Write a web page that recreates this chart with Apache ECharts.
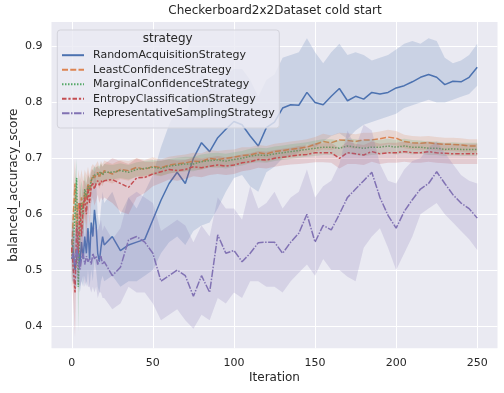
<!DOCTYPE html>
<html>
<head>
<meta charset="utf-8">
<title>Checkerboard2x2Dataset cold start</title>
<script src="https://cdn.jsdelivr.net/npm/echarts@6/dist/echarts.min.js"></script>
<style>
  html, body { margin: 0; padding: 0; background: #fff; }
  #chart { width: 504px; height: 393px; }
</style>
</head>
<body>
<div id="chart"></div>
<script>
// x values (Iteration): every step at the start, then every 5
var iterations = [0, 1, 2, 3, 4, 5, 6, 7, 8, 9, 10, 11, 12, 13, 14, 15, 16, 17, 18, 19, 20,
	25, 30, 35, 40, 45, 50, 55, 60, 65, 70, 75, 80, 85, 90, 95, 100, 105, 110, 115, 120, 125,
	130, 135, 140, 145, 150, 155, 160, 165, 170, 175, 180, 185, 190, 195, 200, 205, 210, 215,
	220, 225, 230, 235, 240, 245, 250];

var strategyNames = ['RandomAcquisitionStrategy', 'LeastConfidenceStrategy', 'MarginalConfidenceStrategy',
	'EntropyClassificationStrategy', 'RepresentativeSamplingStrategy'];

var xTicks = [0, 50, 100, 150, 200, 250];
var yTicks = [0.4, 0.5, 0.6, 0.7, 0.8, 0.9];

// 1 RandomAcquisitionStrategy
var randomMean = [0.555, 0.53, 0.50, 0.52, 0.54, 0.51, 0.55, 0.52, 0.56, 0.53, 0.575, 0.52, 0.585, 0.56, 0.608, 0.58, 0.53, 0.515, 0.54, 0.56, 0.545,
	0.56, 0.535, 0.545, 0.55, 0.555, 0.59, 0.625, 0.655, 0.675, 0.655, 0.70, 0.728, 0.712, 0.737, 0.752, 0.766, 0.76, 0.74, 0.722, 0.755, 0.765,
	0.79, 0.796, 0.795, 0.818, 0.80, 0.796, 0.811, 0.825, 0.803, 0.811, 0.806, 0.818, 0.815, 0.818, 0.826, 0.83, 0.837, 0.845, 0.85, 0.845,
	0.832, 0.838, 0.837, 0.845, 0.863];
var randomLow = [0.51, 0.48, 0.46, 0.47, 0.48, 0.46, 0.48, 0.47, 0.49, 0.47, 0.50, 0.47, 0.50, 0.48, 0.52, 0.50, 0.47, 0.46, 0.48, 0.49, 0.48,
	0.49, 0.47, 0.48, 0.48, 0.49, 0.50, 0.53, 0.55, 0.56, 0.545, 0.57, 0.58, 0.585, 0.61, 0.64, 0.665, 0.67, 0.65, 0.64, 0.675, 0.685,
	0.70, 0.705, 0.71, 0.725, 0.72, 0.73, 0.74, 0.745, 0.735, 0.75, 0.76, 0.765, 0.77, 0.775, 0.78, 0.79, 0.795, 0.80, 0.805, 0.80,
	0.80, 0.805, 0.81, 0.815, 0.83];
var randomHigh = [0.60, 0.58, 0.56, 0.58, 0.60, 0.57, 0.62, 0.58, 0.63, 0.60, 0.65, 0.58, 0.66, 0.64, 0.69, 0.66, 0.60, 0.58, 0.61, 0.64, 0.62,
	0.64, 0.60, 0.63, 0.61, 0.64, 0.67, 0.72, 0.76, 0.79, 0.77, 0.82, 0.85, 0.83, 0.84, 0.85, 0.86, 0.86, 0.84, 0.81, 0.84, 0.85,
	0.88, 0.885, 0.89, 0.915, 0.89, 0.87, 0.89, 0.905, 0.885, 0.89, 0.885, 0.875, 0.88, 0.885, 0.895, 0.905, 0.91, 0.905, 0.915, 0.91,
	0.88, 0.87, 0.875, 0.885, 0.905];

// 2 LeastConfidenceStrategy
var leastMean = [0.53, 0.60, 0.655, 0.56, 0.62, 0.60, 0.63, 0.61, 0.64, 0.625, 0.655, 0.64, 0.66, 0.67, 0.665, 0.67, 0.675, 0.665, 0.675, 0.67, 0.678,
	0.672, 0.68, 0.678, 0.684, 0.68, 0.686, 0.683, 0.688, 0.69, 0.692, 0.695, 0.694, 0.70, 0.698, 0.70, 0.702, 0.705, 0.706, 0.71, 0.708, 0.712,
	0.714, 0.716, 0.718, 0.72, 0.725, 0.73, 0.728, 0.733, 0.732, 0.73, 0.733, 0.733, 0.735, 0.738, 0.736, 0.73, 0.728, 0.727, 0.728, 0.726,
	0.725, 0.725, 0.724, 0.722, 0.722];
var leastLow = [0.48, 0.54, 0.60, 0.50, 0.56, 0.54, 0.58, 0.56, 0.60, 0.58, 0.625, 0.61, 0.635, 0.65, 0.645, 0.65, 0.655, 0.645, 0.655, 0.65, 0.66,
	0.655, 0.663, 0.66, 0.668, 0.664, 0.67, 0.668, 0.673, 0.675, 0.677, 0.68, 0.679, 0.685, 0.683, 0.686, 0.688, 0.69, 0.692, 0.696, 0.694, 0.698,
	0.70, 0.702, 0.704, 0.706, 0.712, 0.716, 0.715, 0.72, 0.719, 0.717, 0.72, 0.72, 0.722, 0.725, 0.723, 0.718, 0.716, 0.715, 0.716, 0.714,
	0.713, 0.713, 0.712, 0.71, 0.71];
var leastHigh = [0.58, 0.66, 0.70, 0.62, 0.68, 0.66, 0.68, 0.66, 0.68, 0.67, 0.685, 0.67, 0.685, 0.69, 0.685, 0.69, 0.695, 0.685, 0.695, 0.69, 0.696,
	0.69, 0.697, 0.695, 0.70, 0.697, 0.702, 0.698, 0.703, 0.705, 0.707, 0.71, 0.709, 0.715, 0.713, 0.715, 0.716, 0.72, 0.72, 0.724, 0.722, 0.726,
	0.728, 0.73, 0.732, 0.734, 0.738, 0.744, 0.741, 0.746, 0.745, 0.743, 0.746, 0.746, 0.748, 0.751, 0.749, 0.742, 0.740, 0.739, 0.740, 0.738,
	0.737, 0.737, 0.736, 0.734, 0.734];

// 3 MarginalConfidenceStrategy
var marginalMean = [0.52, 0.55, 0.60, 0.665, 0.47, 0.58, 0.62, 0.60, 0.645, 0.63, 0.65, 0.645, 0.66, 0.665, 0.67, 0.668, 0.672, 0.67, 0.676, 0.67, 0.675,
	0.675, 0.678, 0.675, 0.68, 0.682, 0.684, 0.682, 0.686, 0.688, 0.69, 0.69, 0.694, 0.696, 0.697, 0.695, 0.698, 0.70, 0.704, 0.706, 0.705, 0.708,
	0.71, 0.712, 0.714, 0.716, 0.718, 0.72, 0.72, 0.718, 0.722, 0.72, 0.718, 0.72, 0.72, 0.722, 0.72, 0.722, 0.72, 0.72, 0.718, 0.718,
	0.716, 0.717, 0.716, 0.716, 0.716];
var marginalLow = [0.47, 0.49, 0.54, 0.62, 0.39, 0.52, 0.58, 0.56, 0.62, 0.605, 0.63, 0.625, 0.645, 0.65, 0.655, 0.653, 0.657, 0.655, 0.661, 0.655, 0.66,
	0.662, 0.665, 0.662, 0.667, 0.669, 0.671, 0.669, 0.673, 0.675, 0.677, 0.677, 0.681, 0.683, 0.684, 0.682, 0.685, 0.687, 0.691, 0.693, 0.692, 0.695,
	0.697, 0.699, 0.701, 0.703, 0.704, 0.706, 0.706, 0.704, 0.708, 0.706, 0.704, 0.706, 0.707, 0.709, 0.707, 0.709, 0.707, 0.708, 0.706, 0.706,
	0.704, 0.705, 0.704, 0.704, 0.704];
var marginalHigh = [0.57, 0.61, 0.66, 0.70, 0.55, 0.64, 0.66, 0.64, 0.67, 0.655, 0.67, 0.665, 0.675, 0.68, 0.685, 0.683, 0.687, 0.685, 0.691, 0.685, 0.69,
	0.688, 0.691, 0.688, 0.693, 0.695, 0.697, 0.695, 0.699, 0.701, 0.703, 0.703, 0.707, 0.709, 0.71, 0.708, 0.711, 0.713, 0.717, 0.719, 0.718, 0.721,
	0.723, 0.725, 0.727, 0.729, 0.732, 0.734, 0.734, 0.732, 0.736, 0.734, 0.732, 0.734, 0.733, 0.735, 0.733, 0.735, 0.733, 0.732, 0.730, 0.730,
	0.728, 0.729, 0.728, 0.728, 0.728];

// 4 EntropyClassificationStrategy
var entropyMean = [0.54, 0.50, 0.46, 0.58, 0.53, 0.62, 0.56, 0.61, 0.63, 0.60, 0.645, 0.62, 0.65, 0.655, 0.645, 0.655, 0.66, 0.652, 0.66, 0.656, 0.66,
	0.662, 0.655, 0.648, 0.665, 0.666, 0.672, 0.676, 0.68, 0.678, 0.68, 0.685, 0.683, 0.686, 0.688, 0.686, 0.688, 0.692, 0.694, 0.698, 0.697, 0.70,
	0.702, 0.704, 0.706, 0.707, 0.71, 0.71, 0.71, 0.70, 0.71, 0.708, 0.706, 0.712, 0.708, 0.71, 0.71, 0.712, 0.71, 0.71, 0.712, 0.71,
	0.709, 0.708, 0.708, 0.708, 0.708];
var entropyLow = [0.49, 0.44, 0.38, 0.52, 0.46, 0.57, 0.50, 0.56, 0.60, 0.55, 0.61, 0.58, 0.62, 0.63, 0.615, 0.625, 0.635, 0.62, 0.63, 0.625, 0.63,
	0.62, 0.605, 0.60, 0.63, 0.638, 0.65, 0.656, 0.662, 0.66, 0.663, 0.668, 0.666, 0.67, 0.672, 0.67, 0.672, 0.677, 0.679, 0.683, 0.682, 0.685,
	0.687, 0.689, 0.69, 0.691, 0.693, 0.693, 0.692, 0.682, 0.69, 0.69, 0.688, 0.694, 0.69, 0.692, 0.692, 0.694, 0.692, 0.692, 0.694, 0.692,
	0.691, 0.69, 0.69, 0.69, 0.69];
var entropyHigh = [0.59, 0.56, 0.54, 0.64, 0.60, 0.67, 0.62, 0.66, 0.66, 0.65, 0.675, 0.66, 0.68, 0.68, 0.675, 0.685, 0.685, 0.68, 0.69, 0.685, 0.69,
	0.70, 0.695, 0.69, 0.70, 0.694, 0.694, 0.696, 0.698, 0.696, 0.697, 0.702, 0.70, 0.702, 0.704, 0.702, 0.704, 0.707, 0.709, 0.713, 0.712, 0.715,
	0.717, 0.719, 0.722, 0.723, 0.727, 0.727, 0.728, 0.718, 0.73, 0.726, 0.724, 0.73, 0.726, 0.728, 0.728, 0.73, 0.728, 0.728, 0.73, 0.728,
	0.727, 0.726, 0.726, 0.726, 0.726];

// 5 RepresentativeSamplingStrategy
var representativeMean = [0.52, 0.53, 0.51, 0.54, 0.52, 0.50, 0.52, 0.53, 0.51, 0.525, 0.515, 0.52, 0.51, 0.53, 0.52, 0.525, 0.51, 0.52, 0.525, 0.51, 0.515,
	0.49, 0.505, 0.554, 0.56, 0.55, 0.53, 0.48, 0.49, 0.50, 0.49, 0.453, 0.49, 0.46, 0.563, 0.53, 0.535, 0.515, 0.53, 0.549, 0.55, 0.55,
	0.53, 0.55, 0.566, 0.60, 0.55, 0.58, 0.572, 0.60, 0.63, 0.645, 0.66, 0.675, 0.63, 0.598, 0.575, 0.605, 0.626, 0.645, 0.655, 0.676,
	0.655, 0.635, 0.62, 0.61, 0.593];
var representativeLow = [0.48, 0.48, 0.47, 0.49, 0.48, 0.47, 0.48, 0.49, 0.47, 0.48, 0.47, 0.47, 0.46, 0.47, 0.46, 0.47, 0.45, 0.46, 0.46, 0.45, 0.45,
	0.43, 0.44, 0.47, 0.46, 0.46, 0.44, 0.41, 0.42, 0.43, 0.41, 0.395, 0.42, 0.41, 0.45, 0.44, 0.46, 0.45, 0.48, 0.48, 0.47, 0.47,
	0.46, 0.48, 0.495, 0.51, 0.49, 0.52, 0.50, 0.50, 0.488, 0.48, 0.54, 0.56, 0.575, 0.54, 0.50, 0.53, 0.56, 0.60, 0.61, 0.62,
	0.60, 0.585, 0.57, 0.555, 0.536];
var representativeHigh = [0.57, 0.58, 0.56, 0.59, 0.57, 0.55, 0.57, 0.58, 0.56, 0.575, 0.565, 0.57, 0.56, 0.585, 0.575, 0.58, 0.57, 0.58, 0.59, 0.57, 0.58,
	0.555, 0.575, 0.63, 0.64, 0.63, 0.62, 0.57, 0.58, 0.59, 0.58, 0.55, 0.58, 0.56, 0.63, 0.61, 0.61, 0.59, 0.65, 0.61, 0.62, 0.64,
	0.61, 0.63, 0.64, 0.68, 0.63, 0.65, 0.66, 0.69, 0.75, 0.72, 0.76, 0.75, 0.69, 0.66, 0.655, 0.68, 0.695, 0.70, 0.72, 0.73,
	0.71, 0.69, 0.67, 0.66, 0.655];

var textColor = '#262626';
var fontName = 'DejaVu Sans';

// seaborn "deep" colours, line dashes scaled by the 1.5 line width
var styles = [
	{ color: '#4c72b0', band: 'rgba(76,114,176,0.2)', dash: 'solid' },
	{ color: '#dd8452', band: 'rgba(221,132,82,0.2)', dash: [6, 2.25] },
	{ color: '#55a868', band: 'rgba(85,168,104,0.2)', dash: [1.5, 1.5] },
	{ color: '#c44e52', band: 'rgba(196,78,82,0.2)', dash: [4.5, 1.875, 2.25, 1.875] },
	{ color: '#8172b3', band: 'rgba(129,114,179,0.2)', dash: [7.5, 1.5, 1.5, 1.5] }
];

var means = [randomMean, leastMean, marginalMean, entropyMean, representativeMean];
var lows = [randomLow, leastLow, marginalLow, entropyLow, representativeLow];
var highs = [randomHigh, leastHigh, marginalHigh, entropyHigh, representativeHigh];

function toPairs(values) {
	return iterations.map(function (it, i) {
		return [it, values[i]];
	});
}

// confidence band drawn as one polygon through the axis scales
function bandSeries(idx) {
	var low = lows[idx], high = highs[idx];
	return {
		name: strategyNames[idx] + ' band',
		type: 'custom',
		z: 1 + idx * 2,
		silent: true,
		data: [[iterations[0], low[0]]],
		renderItem: function (params, api) {
			var top = [], bottom = [];
			for (var i = 0; i < iterations.length; i++) {
				top.push(api.coord([iterations[i], high[i]]));
				bottom.unshift(api.coord([iterations[i], low[i]]));
			}
			return {
				type: 'polygon',
				shape: { points: top.concat(bottom) },
				style: { fill: styles[idx].band }
			};
		}
	};
}

function lineSeries(idx) {
	return {
		name: strategyNames[idx],
		type: 'line',
		z: 2 + idx * 2,
		symbol: 'none',
		showSymbol: false,
		data: toPairs(means[idx]),
		itemStyle: { color: styles[idx].color },
		lineStyle: { color: styles[idx].color, width: 1.5, type: styles[idx].dash }
	};
}

var series = [];
for (var s = 0; s < strategyNames.length; s++) {
	series.push(bandSeries(s));
	series.push(lineSeries(s));
}

var myChart = echarts.init(document.getElementById('chart'), null, { renderer: 'canvas' });

var option = {
	animation: false,
	backgroundColor: '#ffffff',
	textStyle: { fontFamily: fontName },
	grid: {
		left: 51.5, right: 6.5, top: 22, bottom: 44.7,
		outerBoundsMode: 'none',
		containLabel: false,
		show: true, backgroundColor: '#eaeaf2', borderWidth: 0
	},
	xAxis: {
		type: 'value',
		min: -12.5,
		max: 262.5,
		name: 'Iteration',
		nameLocation: 'middle',
		nameGap: 24,
		nameMoveOverlap: false,
		nameTextStyle: { color: textColor, fontSize: 12, fontFamily: fontName },
		axisLine: { show: false },
		axisTick: { show: false, customValues: xTicks },
		axisLabel: { customValues: xTicks, color: textColor, fontSize: 11, fontFamily: fontName, margin: 9 },
		splitLine: { show: true, lineStyle: { color: '#ffffff', width: 1 } }
	},
	yAxis: {
		type: 'value',
		min: 0.36,
		max: 0.944,
		name: 'balanced_accuracy_score',
		nameLocation: 'middle',
		nameGap: 32,
		nameMoveOverlap: false,
		nameTextStyle: { color: textColor, fontSize: 12, fontFamily: fontName },
		axisLine: { show: false },
		axisTick: { show: false, customValues: yTicks },
		axisLabel: {
			customValues: yTicks, color: textColor, fontSize: 11, fontFamily: fontName, margin: 9,
			formatter: function (v) { return v.toFixed(1); }
		},
		splitLine: { show: true, lineStyle: { color: '#ffffff', width: 1 } }
	},
	legend: {
		data: strategyNames,
		orient: 'vertical',
		left: 61,
		top: 49.7,
		padding: 0,
		itemWidth: 22,
		itemHeight: 12,
		itemGap: 3.5,
		z: 60,
		selectedMode: false,
		// hide the marker dot, keep only the dashed line sample
		itemStyle: { color: 'rgba(0,0,0,0)', borderWidth: 0, opacity: 0 },
		textStyle: { color: textColor, fontSize: 11, fontFamily: fontName, padding: [0, 0, 0, 4] }
	},
	graphic: [
		{
			type: 'text', z: 60, x: 275, y: 11,
			style: { text: 'Checkerboard2x2Dataset cold start', fill: textColor, font: '12px "DejaVu Sans"', textAlign: 'center', textVerticalAlign: 'middle' }
		},
		{
			type: 'rect', z: 50, shape: { x: 57.3, y: 30, width: 222, height: 98, r: 3 },
			style: { fill: 'rgba(234,234,242,0.8)', stroke: '#d3d3db', lineWidth: 1 }
		},
		{
			type: 'text', z: 60, x: 167.7, y: 39,
			style: { text: 'strategy', fill: textColor, font: '12px "DejaVu Sans"', textAlign: 'center', textVerticalAlign: 'middle' }
		}
	],
	series: series
};

myChart.setOption(option);
</script>
</body>
</html>
